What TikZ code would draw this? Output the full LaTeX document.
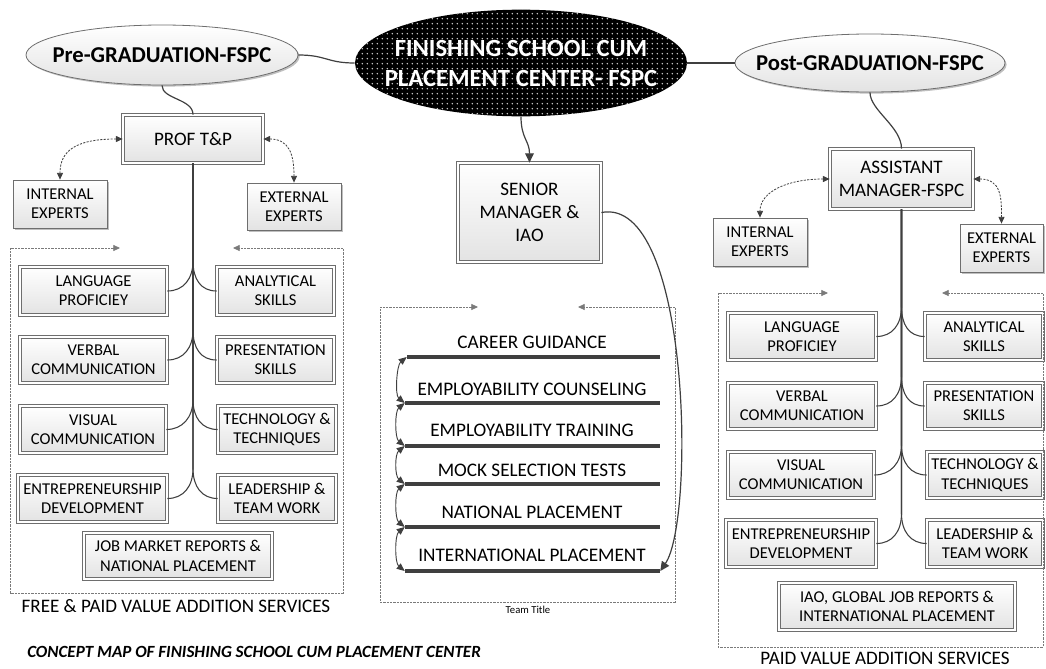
\documentclass[tikz,border=0pt]{standalone}
\usepackage{fontspec}
\setmainfont{Carlito}
\usetikzlibrary{shapes.geometric, arrows.meta, calc, patterns.meta, shadows}

\definecolor{ink}{HTML}{3F3F3F}
\definecolor{rim}{HTML}{6E6E6E}
\definecolor{dash}{HTML}{7A7A7A}

% sparse dot grid for the central ellipse
\tikzdeclarepattern{
  name=coredots,
  type=uncolored,
  bounding box={(0pt,0pt) and (3.6pt,3.6pt)},
  tile size={(3.6pt,3.6pt)},
  code={\fill (1.8pt,1.8pt) circle (0.6pt);}
}

% place a node by its corner coordinates (in px)
\newcommand\boxat[7]{%
  \node[#1, minimum width={(#5-#3)*0.75pt}, minimum height={(#6-#4)*0.75pt}]
    (#2) at ({(#3+#5)/2},{(#4+#6)/2}) {#7};}

% trunk branches: down from the parent, then bending into a child
\newcommand\lbranch[2]{\draw[trunk] (#1.south) -- ($(#1.south |- #2.east)+(0,-30)$)
  .. controls +(0,18) and +(16,0) .. (#2.east);}
\newcommand\rbranch[2]{\draw[trunk] (#1.south) -- ($(#1.south |- #2.west)+(0,-30)$)
  .. controls +(0,18) and +(-16,0) .. (#2.west);}

\tikzset{
  shade/.style={top color=white, bottom color=gray!22},
  dshadow/.style={drop shadow={shadow xshift=1.2pt, shadow yshift=-1.2pt, opacity=0.25, fill=black}},
  dblbox/.style={rectangle, draw=rim, line width=0.55pt, double=white, double distance=1.4pt,
    shade, dshadow, align=center, inner sep=2pt, text=black},
  pbox/.style={dblbox, font=\fontsize{14.3}{17.5}\selectfont},
  sbox/.style={dblbox, font=\fontsize{12.4}{14.5}\selectfont},
  ebox/.style={rectangle, draw=rim, line width=0.6pt, shade, dshadow, align=center, inner sep=2pt,
    font=\fontsize{12.4}{14.5}\selectfont},
  side/.style={ellipse, draw=rim, line width=0.6pt, shade, dshadow, inner sep=0pt},
  sidetxt/.style={font=\bfseries\fontsize{17}{20}\selectfont, inner sep=0pt},
  core/.style={ellipse, fill=black, inner sep=0pt,
    postaction={pattern=coredots, pattern color=white!85!black}},
  coretxt/.style={font=\bfseries\fontsize{18.5}{22.5}\selectfont, text=white, align=center, inner sep=0pt},
  conn/.style={draw=ink, line width=0.9pt},
  trunk/.style={draw=ink, line width=0.8pt},
  tipa/.style={-{Triangle[length=7pt, width=6.5pt]}},
  dashlink/.style={draw=ink, line width=0.6pt, dash pattern=on 1.6pt off 1pt,
    {Triangle[length=5pt, width=4.5pt]}-{Triangle[length=5pt, width=4.5pt]}},
  frame/.style={draw=dash, line width=0.55pt, dash pattern=on 1.6pt off 0.9pt,
    {Triangle[length=5pt, width=4.5pt]}-{Triangle[length=5pt, width=4.5pt]}},
  item/.style={font=\fontsize{14.4}{16}\selectfont, inner sep=0pt},
  bar/.style={rectangle, fill=ink, inner sep=0pt, minimum height=3.4pt},
  steparrow/.style={draw=ink, line width=0.7pt,
    {Triangle[length=6pt, width=5pt]}-{Triangle[length=6pt, width=5pt]}},
  caption/.style={font=\fontsize{14.3}{16}\selectfont, inner sep=0pt}
}

\begin{document}
\begin{tikzpicture}[x=0.75pt, y=-0.75pt]
\useasboundingbox (0,0) rectangle (1046,668);

% ---------- top row ----------
\node[core, minimum width=249pt, minimum height=80pt,
  label={[coretxt]center:FINISHING SCHOOL CUM\\PLACEMENT CENTER- FSPC}] (fspc) at (521,63) {};
\node[side, minimum width=204pt, minimum height=45pt,
  label={[sidetxt]center:Pre-GRADUATION-FSPC}] (pre) at (162,55) {};
\node[side, minimum width=202.5pt, minimum height=43.5pt,
  label={[sidetxt]center:Post-GRADUATION-FSPC}] (post) at (870,63) {};

\draw[conn] (pre.east) .. controls +(28,0) and +(-28,0) .. (fspc.west);
\draw[conn] (fspc.east) -- (post.west);

% ---------- left branch ----------
\boxat{pbox}{prof}{123}{115}{263}{163}{PROF T\&P}
\boxat{ebox}{ie1}{13}{180}{107}{228}{INTERNAL\\EXPERTS}
\boxat{ebox}{ee1}{247}{183}{341}{230}{EXTERNAL\\EXPERTS}

\boxat{sbox}{lang1}{20}{267}{167}{315}{LANGUAGE\\PROFICIEY}
\boxat{sbox}{verb1}{20}{337}{167}{383}{VERBAL\\COMMUNICATION}
\boxat{sbox}{vis1}{20}{406}{166}{453}{VISUAL\\COMMUNICATION}
\boxat{sbox}{ent1}{18}{475}{167}{522}{ENTREPRENEURSHIP\\DEVELOPMENT}
\boxat{sbox}{ana1}{217}{267}{334}{315}{ANALYTICAL\\SKILLS}
\boxat{sbox}{pres1}{217}{337}{334}{383}{PRESENTATION\\SKILLS}
\boxat{sbox}{tech1}{218}{406}{336}{453}{TECHNOLOGY \&\\TECHNIQUES}
\boxat{sbox}{lead1}{218}{475}{336}{522}{LEADERSHIP \&\\TEAM WORK}
\boxat{sbox}{job1}{84}{533}{272}{579}{JOB MARKET REPORTS \&\\NATIONAL PLACEMENT}

\draw[conn] (pre.south) .. controls +(0,14) and +(0,-16) .. (prof.north);
\draw[dashlink] (prof.west) .. controls +(-48,0) and +(0,-28) .. (ie1.north);
\draw[dashlink] (prof.east) .. controls +(26,0) and +(0,-28) .. (ee1.north);

\foreach \b in {lang1,verb1,vis1,ent1} {\lbranch{prof}{\b}}
\foreach \b in {ana1,pres1,tech1,lead1} {\rbranch{prof}{\b}}

\draw[frame] (120,248) -- (10,248) -- (10,593) -- (343,593) -- (343,248) -- (233,248);
\node[caption] (freelbl) at (176,606) {FREE \& PAID VALUE ADDITION SERVICES};

% ---------- middle branch ----------
\boxat{pbox}{sm}{458}{163}{601}{262}{SENIOR\\MANAGER \&\\IAO}
\draw[conn, tipa] (fspc.south) .. controls +(0,22) and +(0,-22) .. (sm.north);

\draw[frame] (478,307) -- (380,307) -- (380,602) -- (675,602) -- (675,307) -- (578,307);
\node[font=\fontsize{8}{9}\selectfont, inner sep=0pt] (team) at (528,610) {Team Title};

\node[item] (t1) at (532,342) {CAREER GUIDANCE};
\node[item] (t2) at (532,389) {EMPLOYABILITY COUNSELING};
\node[item] (t3) at (532,430) {EMPLOYABILITY TRAINING};
\node[item] (t4) at (532,470) {MOCK SELECTION TESTS};
\node[item] (t5) at (532,512) {NATIONAL PLACEMENT};
\node[item] (t6) at (532,555) {INTERNATIONAL PLACEMENT};

\node[bar, minimum width=189.75pt] (b1) at (533.5,357) {};
\node[bar, minimum width=191.25pt] (b2) at (532.5,403) {};
\node[bar, minimum width=191.25pt] (b3) at (532.5,446) {};
\node[bar, minimum width=191.25pt] (b4) at (532.5,484) {};
\node[bar, minimum width=191.25pt] (b5) at (532.5,527) {};
\node[bar, minimum width=191.25pt] (b6) at (532.5,571) {};

\draw[steparrow] (b1.west) .. controls +(-10,8) and +(-10,-8) .. (b2.west);
\draw[steparrow] (b2.west) .. controls +(-10,8) and +(-10,-8) .. (b3.west);
\draw[steparrow] (b3.west) .. controls +(-10,8) and +(-10,-8) .. (b4.west);
\draw[steparrow] (b4.west) .. controls +(-10,8) and +(-10,-8) .. (b5.west);
\draw[steparrow] (b5.west) .. controls +(-10,8) and +(-10,-8) .. (b6.west);

\draw[conn, tipa] (sm.east) .. controls +(89,-17) and +(35,-51) .. (b6.east);

% ---------- right branch ----------
\boxat{pbox}{am}{830}{149}{973}{209}{ASSISTANT\\MANAGER-FSPC}
\boxat{ebox}{ie2}{713}{218}{807}{266}{INTERNAL\\EXPERTS}
\boxat{ebox}{ee2}{960}{224}{1043}{272}{EXTERNAL\\EXPERTS}

\boxat{sbox}{lang2}{728}{313}{876}{360}{LANGUAGE\\PROFICIEY}
\boxat{sbox}{verb2}{728}{383}{876}{429}{VERBAL\\COMMUNICATION}
\boxat{sbox}{vis2}{728}{452}{874}{498}{VISUAL\\COMMUNICATION}
\boxat{sbox}{ent2}{726}{520}{876}{567}{ENTREPRENEURSHIP\\DEVELOPMENT}
\boxat{sbox}{ana2}{925}{313}{1043}{360}{ANALYTICAL\\SKILLS}
\boxat{sbox}{pres2}{925}{383}{1043}{429}{PRESENTATION\\SKILLS}
\boxat{sbox}{tech2}{927}{452}{1043}{498}{TECHNOLOGY \&\\TECHNIQUES}
\boxat{sbox}{lead2}{927}{520}{1043}{567}{LEADERSHIP \&\\TEAM WORK}
\boxat{sbox}{iao2}{779}{583}{1015}{630}{IAO, GLOBAL JOB REPORTS \&\\INTERNATIONAL PLACEMENT}

\draw[conn] (post.south) .. controls +(0,18) and +(0,-22) .. (am.north);
\draw[dashlink] (am.west) .. controls +(-42,0) and +(0,-26) .. (ie2.north);
\draw[dashlink] (am.east) .. controls +(28,0) and +(0,-26) .. (ee2.north);

\foreach \b in {lang2,verb2,vis2,ent2} {\lbranch{am}{\b}}
\foreach \b in {ana2,pres2,tech2,lead2} {\rbranch{am}{\b}}

\draw[frame] (828,293) -- (718,293) -- (718,647) -- (1043,647) -- (1043,293) -- (942,293);
\node[caption] (paidlbl) at (885,658) {PAID VALUE ADDITION SERVICES};

% ---------- title ----------
\node[font=\bfseries\itshape\fontsize{12.8}{15}\selectfont, anchor=west, inner sep=0pt] (title)
  at (27,652) {CONCEPT MAP OF FINISHING SCHOOL CUM PLACEMENT CENTER};
\end{tikzpicture}
\end{document}
